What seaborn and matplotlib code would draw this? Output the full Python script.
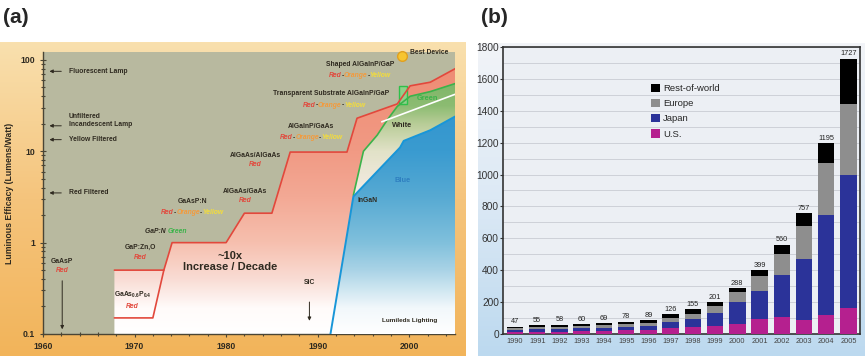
import numpy as np
import matplotlib
matplotlib.use("Agg")
import matplotlib.pyplot as plt
import seaborn as sns
from matplotlib.colors import LinearSegmentedColormap
from matplotlib.patches import Patch

sns.set_style("ticks")
plt.rcParams["font.family"] = ["Liberation Sans", "DejaVu Sans"]
plt.rcParams["mathtext.default"] = "regular"

# ---------------------------------------------------------------------------
# (a) LED luminous efficacy history
# ---------------------------------------------------------------------------
red_years = [1967.8, 1973.2, 1974.1, 1980.0, 1982.0, 1985.0, 1987.0, 1993.2,
             1994.3, 1998.7, 2000.1, 2002.3, 2005.0]
red_eff = [0.5, 0.5, 1.0, 1.0, 2.1, 2.1, 9.8, 9.8, 23, 33, 52, 57, 80]
low_years = [1967.8, 1972.0, 1973.2]
low_eff = [0.15, 0.15, 0.5]
green_years = [1993.9, 1995.0, 1996.5, 1997.6, 1998.7, 2000.1, 2002.3, 2005.0]
green_eff = [3.3, 10, 15, 22, 31, 40, 45, 55]
blue_years = [1991.4, 1993.9, 1999.0, 1999.4, 2002.3, 2005.0]
blue_eff = [0.1, 3.2, 11, 13, 17, 24]
white_years = [1997.0, 2005.0]
white_eff = [21, 42]
box_years = [1998.9, 1999.8]
box_eff = [33, 52]

lamp_names = ["Fluorescent Lamp", "Unfiltered\nIncandescent Lamp",
              "Yellow Filtered", "Red Filtered"]
lamp_eff = [75, 19, 13.4, 3.5]
best_year, best_eff = 1999.2, 111

# ---------------------------------------------------------------------------
# (b) LED market by region
# ---------------------------------------------------------------------------
years = [str(y) for y in range(1990, 2006)]
us = [12, 14, 15, 17, 18, 24, 25, 38, 44, 50, 63, 94, 108, 90, 120, 160]
japan = [16, 18, 19, 19, 18, 22, 27, 37, 48, 80, 136, 178, 262, 378, 626, 837]
europe = [9, 11, 12, 12, 20, 17, 19, 25, 32, 46, 62, 92, 130, 210, 326, 445]
totals = [47, 55, 58, 60, 69, 78, 89, 126, 155, 201, 288, 399, 560, 757, 1195, 1727]

DARK = "#2f2a20"
RED = "#e2483c"
ORANGE = "#f39a3c"
YELLOW = "#f4dd3a"
GREEN = "#3bb34a"
YTOP = np.log10(122)

fig = plt.figure(figsize=(8.65, 3.56), dpi=100)


def panel_bg(rect, colors):
    bg = fig.add_axes(rect)
    cmap = LinearSegmentedColormap.from_list("bg", colors)
    bg.imshow(np.linspace(0, 1, 256).reshape(-1, 1), aspect="auto", cmap=cmap,
              extent=[0, 1, 0, 1], origin="lower")
    bg.axis("off")


panel_bg([0, 0, 0.5376, 0.882], ["#f2b45a", "#f5c47c", "#f9e0ae"])
panel_bg([0.5526, 0, 0.4474, 0.879], ["#bcd9ef", "#dce9f5", "#f2f4f8"])

fig.text(0.004, 0.95, "(a)", fontsize=15, fontweight="bold", va="center")
fig.text(0.556, 0.95, "(b)", fontsize=15, fontweight="bold", va="center")

# ---------------------------------------------------------------------------
ax = fig.add_axes([0.0497, 0.0618, 0.4763, 0.7921])
ax.set_facecolor("#b8b99f")


def grad_fill(xs, ys, stops, z):
    poly = ax.fill(xs, ys, facecolor="none", edgecolor="none")[0]
    stops = [((v + 1) / (YTOP + 1), c) for v, c in stops]
    cmap = LinearSegmentedColormap.from_list("g", stops)
    im = ax.imshow(np.linspace(0, 1, 256).reshape(-1, 1), origin="lower",
                   extent=[1960, 2005, -1, YTOP], aspect="auto", cmap=cmap,
                   zorder=z)
    im.set_clip_path(poly)


lr = np.log10(red_eff)
lg = np.log10(green_eff)
lb = np.log10(blue_eff)

grad_fill(red_years + [red_years[-1], red_years[0]], list(lr) + [-1, -1],
          [(-1, "#ffffff"), (-0.72, "#fffbfa"), (-0.4, "#f9dcd4"),
           (0, "#f6bfae"), (0.5, "#f3a995"), (1.0, "#f19a84"),
           (YTOP, "#ee8a72")], 1)

bx = [y for y in blue_years if y >= green_years[0]]
bl = [v for y, v in zip(blue_years, lb) if y >= green_years[0]]
grad_fill(green_years + bx[::-1], list(lg) + bl[::-1],
          [(-1, "#ffffff"), (0.5, "#f6ece6"), (1.0, "#e2e2c8"),
           (1.3, "#b9cd98"), (1.5, "#8cbc72"), (YTOP, "#6fae5c")], 2)

grad_fill(blue_years + [blue_years[-1], blue_years[0]], list(lb) + [-1, -1],
          [(-1, "#ffffff"), (-0.72, "#f2f8fb"), (-0.3, "#a9d3e6"),
           (0, "#80c0dc"), (0.5, "#57aad3"), (1.0, "#3a9bd0"),
           (YTOP, "#2a8fcc")], 3)

ax.fill([box_years[0], box_years[1], box_years[1], box_years[0]],
        np.log10([box_eff[0], box_eff[0], box_eff[1], box_eff[1]]),
        facecolor="#8fd08a", edgecolor="#2fc04a", lw=1.0, zorder=4)

line_kw = dict(ax=ax, estimator=None, sort=False, zorder=5)
sns.lineplot(x=red_years, y=lr, color=RED, lw=1.2, **line_kw)
sns.lineplot(x=low_years, y=np.log10(low_eff), color=RED, lw=1.2, **line_kw)
sns.lineplot(x=green_years, y=lg, color=GREEN, lw=1.2, **line_kw)
sns.lineplot(x=blue_years, y=lb, color="#1896d8", lw=1.4, **line_kw)
sns.lineplot(x=white_years, y=np.log10(white_eff), color="white", lw=1.2,
             **line_kw)

ax.plot(best_year, np.log10(best_eff), "o", ms=7, color="#f7c530",
        mec="#e0a020", clip_on=False, zorder=8)

tkw = dict(fontsize=4.9, fontweight="bold", color=DARK, zorder=7)
arrow = dict(arrowstyle="-|>", color=DARK, lw=0.7, mutation_scale=5)

for name, v in zip(lamp_names, lamp_eff):
    yv = np.log10(v)
    ax.annotate("", xy=(1960.4, yv), xytext=(1962.3, yv), arrowprops=arrow,
                zorder=7)
    dy = 0.06 if "\n" in name else 0
    ax.text(1962.8, yv + dy, name, ha="left", va="center", linespacing=1.2,
            **tkw)


def colored(x, y, parts, ha="center"):
    full = "".join(p for p, _ in parts)
    base = ax.text(x, y, full, ha=ha, va="center", alpha=0, style="italic",
                   **tkw)
    prev, anchor = base, (0, 0)
    for text, col in parts:
        kw = dict(tkw)
        kw["color"] = col
        prev = ax.annotate(text, xy=anchor, xycoords=prev, ha="left",
                           va="bottom", style="italic", **kw)
        anchor = (1, 0)


roy = [("Red", RED), ("-", DARK), ("Orange", ORANGE), ("-", DARK),
       ("Yellow", YELLOW)]

ax.text(1962.1, np.log10(0.62), "GaAsP", ha="center", va="center", **tkw)
colored(1962.1, np.log10(0.5), [("Red", RED)])
ax.annotate("", xy=(1962.1, np.log10(0.105)), xytext=(1962.1, np.log10(0.41)),
            arrowprops=arrow, zorder=7)
ax.text(1970.6, np.log10(0.88), "GaP:Zn,O", ha="center", va="center", **tkw)
colored(1970.6, np.log10(0.69), [("Red", RED)])
ax.text(1969.8, np.log10(0.27), "GaAs$_{0.6}$P$_{0.4}$", ha="center",
        va="center", **tkw)
colored(1969.8, np.log10(0.2), [("Red", RED)])
colored(1973.4, np.log10(1.32), [("GaP:N ", DARK), ("Green", GREEN)])
ax.text(1976.3, np.log10(2.8), "GaAsP:N", ha="center", va="center", **tkw)
colored(1976.3, np.log10(2.13), roy)
ax.text(1982.1, np.log10(3.6), "AlGaAs/GaAs", ha="center", va="center", **tkw)
colored(1982.1, np.log10(2.9), [("Red", RED)])
ax.text(1983.2, np.log10(8.9), "AlGaAs/AlGaAs", ha="center", va="center", **tkw)
colored(1983.2, np.log10(7.2), [("Red", RED)])
ax.text(1989.3, np.log10(18.5), "AlGaInP/GaAs", ha="center", va="center", **tkw)
colored(1989.3, np.log10(14), roy)
ax.text(1991.5, np.log10(42.5), "Transparent Substrate AlGaInP/GaP",
        ha="center", va="center", **tkw)
colored(1991.8, np.log10(32), roy)
ax.text(1994.6, np.log10(88), "Shaped AlGaInP/GaP", ha="center", va="center",
        **tkw)
colored(1994.6, np.log10(67), roy)
ax.text(2000.1, np.log10(119), "Best Device", ha="left", va="center",
        clip_on=False, **tkw)

ax.text(1980.4, np.log10(0.62), "~10x\nIncrease / Decade", ha="center",
        va="center", fontsize=8, fontweight="bold", color=DARK,
        linespacing=1.05, zorder=7)
ax.text(1989.1, np.log10(0.37), "SiC", ha="center", va="center", **tkw)
ax.annotate("", xy=(1989.1, np.log10(0.13)), xytext=(1989.1, np.log10(0.24)),
            arrowprops=arrow, zorder=7)
ax.text(1995.4, np.log10(2.9), "InGaN", ha="center", va="center", **tkw)
ax.text(1999.3, np.log10(4.8), "Blue", ha="center", va="center",
        fontsize=5.3, fontweight="bold", color="#2f7fc0", zorder=7)
ax.text(1999.2, np.log10(19), "White", ha="center", va="center",
        fontsize=5.3, fontweight="bold", color=DARK, zorder=7)
ax.text(2002.0, np.log10(38), "Green", ha="center", va="center",
        fontsize=5.3, fontweight="bold", color=GREEN, zorder=7)
ax.text(1997.0, np.log10(0.14), "Lumileds Lighting", ha="left", va="center",
        fontsize=4.6, fontweight="bold", color=DARK, zorder=7)

ax.set_xlim(1960, 2005)
ax.set_ylim(-1, YTOP)
ax.set_xticks([1960, 1970, 1980, 1990, 2000])
ax.set_xticks(np.arange(1960, 2005, 2), minor=True)
ax.set_yticks([-1, 0, 1, 2])
ax.set_yticklabels(["0.1", "1", "10", "100"])
ax.set_yticks(np.log10(np.outer([0.1, 1, 10], np.arange(2, 10)).ravel()),
              minor=True)
ax.tick_params(which="both", direction="inout", colors="#4a4535",
               labelsize=6.2, width=0.8, labelcolor=DARK)
ax.tick_params(which="major", length=4)
ax.tick_params(which="minor", length=2.5)
for lab in ax.get_xticklabels() + ax.get_yticklabels():
    lab.set_fontweight("bold")
for side in ["top", "right"]:
    ax.spines[side].set_visible(False)
for side in ["left", "bottom"]:
    ax.spines[side].set_color("#4a4535")
    ax.spines[side].set_linewidth(1.0)
ax.set_ylabel("Luminous Efficacy (Lumens/Watt)", fontsize=6.3,
              fontweight="bold", color=DARK, labelpad=5)

# ---------------------------------------------------------------------------
axb = fig.add_axes([0.5815, 0.0618, 0.4127, 0.8062])
axb.set_facecolor("#eceff4")

cum_eu = [a + b + c for a, b, c in zip(us, japan, europe)]
cum_jp = [a + b for a, b in zip(us, japan)]
layers = [(totals, "#000000", "Rest-of-world"), (cum_eu, "#8e8e8e", "Europe"),
          (cum_jp, "#2b3399", "Japan"), (us, "#b5208f", "U.S.")]
for vals, col, _ in layers:
    sns.barplot(x=years, y=vals, color=col, width=0.74, saturation=1,
                ax=axb, zorder=3, edgecolor="none")

for i, t in enumerate(totals):
    axb.text(i, t + 8, str(t), ha="center", va="bottom", fontsize=5.3,
             color="#222222", zorder=4)

axb.set_ylim(0, 1800)
axb.set_xlim(-0.54, 15.52)
axb.set_yticks(np.arange(0, 1801, 200))
axb.set_yticks(np.arange(0, 1801, 100), minor=True)
axb.yaxis.grid(True, which="both", color="#c9ccd3", lw=0.6)
axb.set_axisbelow(True)
axb.tick_params(axis="y", which="major", labelsize=7.3, labelcolor="#333333",
                length=2, color="#333333", pad=1)
axb.tick_params(axis="y", which="minor", length=0)
axb.tick_params(axis="x", labelsize=5.3, labelcolor="#444444", length=0, pad=3)
axb.set_xlabel("")
axb.set_ylabel("")
for side in axb.spines.values():
    side.set_color("#333333")
    side.set_linewidth(1.2)

handles = [Patch(facecolor=c, edgecolor="none", label=l) for _, c, l in layers]
axb.legend(handles=handles, loc="upper left", bbox_to_anchor=(0.404, 0.885),
           frameon=False, fontsize=6.8, handlelength=1.0, handleheight=1.0,
           handletextpad=0.3, labelspacing=0.6, borderaxespad=0)

fig.savefig("out.png", dpi=100)
